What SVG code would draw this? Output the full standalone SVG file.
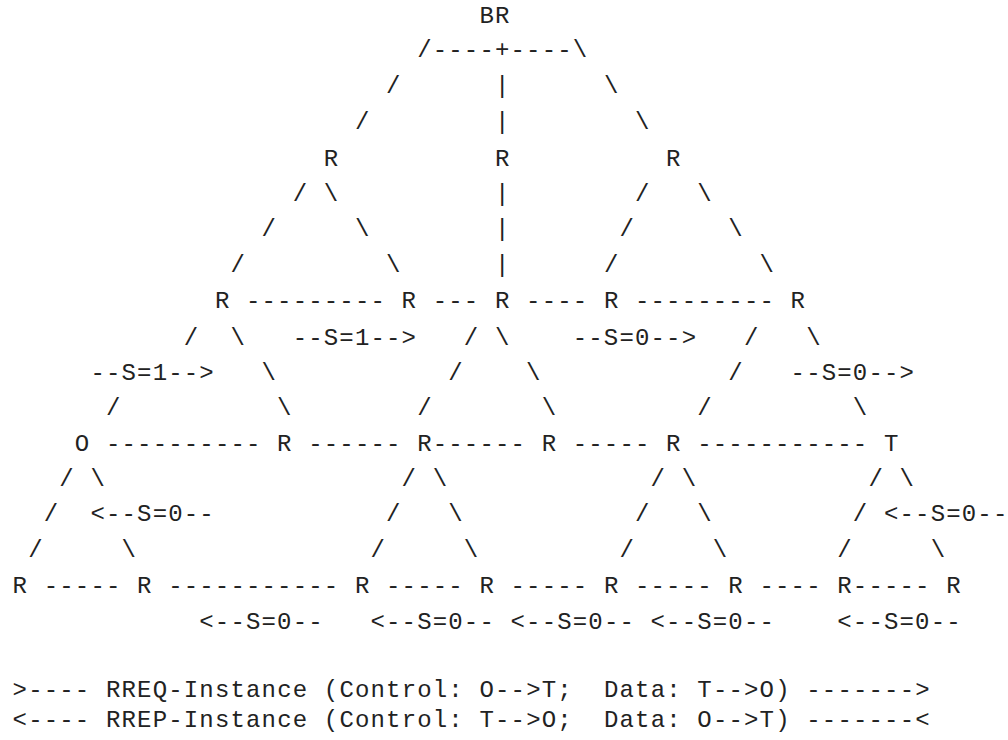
<svg xmlns="http://www.w3.org/2000/svg" width="1008" height="740" viewBox="0 0 1008 740">
<style>
text{font-family:"Liberation Mono","DejaVu Sans Mono",monospace;font-size:24px;letter-spacing:1.16px;fill:#222;white-space:pre}
</style>
<rect width="1008" height="740" fill="#fff"/>
<g id="connectors" xml:space="preserve">
<text x="417.16" y="57">/----+----\</text>
<text x="386.04" y="93">/</text><text x="494.96" y="93">|</text><text x="603.88" y="93">\</text>
<text x="354.92" y="129">/</text><text x="494.96" y="129">|</text><text x="635" y="129">\</text>
<text x="292.68" y="201">/</text><text x="323.8" y="201">\</text><text x="494.96" y="201">|</text><text x="635" y="201">/</text><text x="697.24" y="201">\</text>
<text x="261.56" y="236">/</text><text x="354.92" y="236">\</text><text x="494.96" y="236">|</text><text x="619.44" y="236">/</text><text x="728.36" y="236">\</text>
<text x="230.44" y="272">/</text><text x="386.04" y="272">\</text><text x="494.96" y="272">|</text><text x="603.88" y="272">/</text><text x="759.48" y="272">\</text>
<text x="246" y="308">---------</text><text x="432.72" y="308">---</text><text x="526.08" y="308">----</text><text x="635" y="308">---------</text>
<text x="183.76" y="345">/</text><text x="230.44" y="345">\</text><text x="292.68" y="345">--S=1--&gt;</text><text x="463.84" y="345">/</text><text x="494.96" y="345">\</text><text x="572.76" y="345">--S=0--&gt;</text><text x="743.92" y="345">/</text><text x="806.16" y="345">\</text>
<text x="90.4" y="380">--S=1--&gt;</text><text x="261.56" y="380">\</text><text x="448.28" y="380">/</text><text x="526.08" y="380">\</text><text x="728.36" y="380">/</text><text x="790.6" y="380">--S=0--&gt;</text>
<text x="105.96" y="415">/</text><text x="277.12" y="415">\</text><text x="417.16" y="415">/</text><text x="541.64" y="415">\</text><text x="697.24" y="415">/</text><text x="852.84" y="415">\</text>
<text x="105.96" y="451">----------</text><text x="308.24" y="451">------</text><text x="432.72" y="451">------</text><text x="572.76" y="451">-----</text><text x="697.24" y="451">-----------</text>
<text x="59.28" y="486">/</text><text x="90.4" y="486">\</text><text x="401.6" y="486">/</text><text x="432.72" y="486">\</text><text x="650.56" y="486">/</text><text x="681.68" y="486">\</text><text x="868.4" y="486">/</text><text x="899.52" y="486">\</text>
<text x="43.72" y="521">/</text><text x="90.4" y="521">&lt;--S=0--</text><text x="386.04" y="521">/</text><text x="448.28" y="521">\</text><text x="635" y="521">/</text><text x="697.24" y="521">\</text><text x="852.84" y="521">/</text><text x="883.96" y="521">&lt;--S=0--</text>
<text x="28.16" y="557">/</text><text x="121.52" y="557">\</text><text x="370.48" y="557">/</text><text x="463.84" y="557">\</text><text x="619.44" y="557">/</text><text x="712.8" y="557">\</text><text x="837.28" y="557">/</text><text x="930.64" y="557">\</text>
<text x="43.72" y="593">-----</text><text x="168.2" y="593">-----------</text><text x="386.04" y="593">-----</text><text x="510.52" y="593">-----</text><text x="635" y="593">-----</text><text x="759.48" y="593">----</text><text x="852.84" y="593">-----</text>
<text x="199.32" y="629">&lt;--S=0--</text><text x="370.48" y="629">&lt;--S=0--</text><text x="510.52" y="629">&lt;--S=0--</text><text x="650.56" y="629">&lt;--S=0--</text><text x="837.28" y="629">&lt;--S=0--</text>
</g>
<g id="n-br"><text x="479.4" y="23">BR</text></g>
<g id="n-r1"><text x="323.8" y="166">R</text></g>
<g id="n-r2"><text x="494.96" y="166">R</text></g>
<g id="n-r3"><text x="666.12" y="166">R</text></g>
<g id="n-r4"><text x="214.88" y="308">R</text></g>
<g id="n-r5"><text x="401.6" y="308">R</text></g>
<g id="n-r6"><text x="494.96" y="308">R</text></g>
<g id="n-r7"><text x="603.88" y="308">R</text></g>
<g id="n-r8"><text x="790.6" y="308">R</text></g>
<g id="n-o"><text x="74.84" y="451">O</text></g>
<g id="n-r9"><text x="277.12" y="451">R</text></g>
<g id="n-r10"><text x="417.16" y="451">R</text></g>
<g id="n-r11"><text x="541.64" y="451">R</text></g>
<g id="n-r12"><text x="666.12" y="451">R</text></g>
<g id="n-t"><text x="883.96" y="451">T</text></g>
<g id="n-r13"><text x="12.6" y="593">R</text></g>
<g id="n-r14"><text x="137.08" y="593">R</text></g>
<g id="n-r15"><text x="354.92" y="593">R</text></g>
<g id="n-r16"><text x="479.4" y="593">R</text></g>
<g id="n-r17"><text x="603.88" y="593">R</text></g>
<g id="n-r18"><text x="728.36" y="593">R</text></g>
<g id="n-r19"><text x="837.28" y="593">R</text></g>
<g id="n-r20"><text x="946.2" y="593">R</text></g>
<g id="legend" xml:space="preserve">
<text x="12.6" y="697">&gt;---- RREQ-Instance (Control: O--&gt;T;  Data: T--&gt;O) -------&gt;</text>
<text x="12.6" y="727">&lt;---- RREP-Instance (Control: T--&gt;O;  Data: O--&gt;T) -------&lt;</text>
</g>
</svg>
